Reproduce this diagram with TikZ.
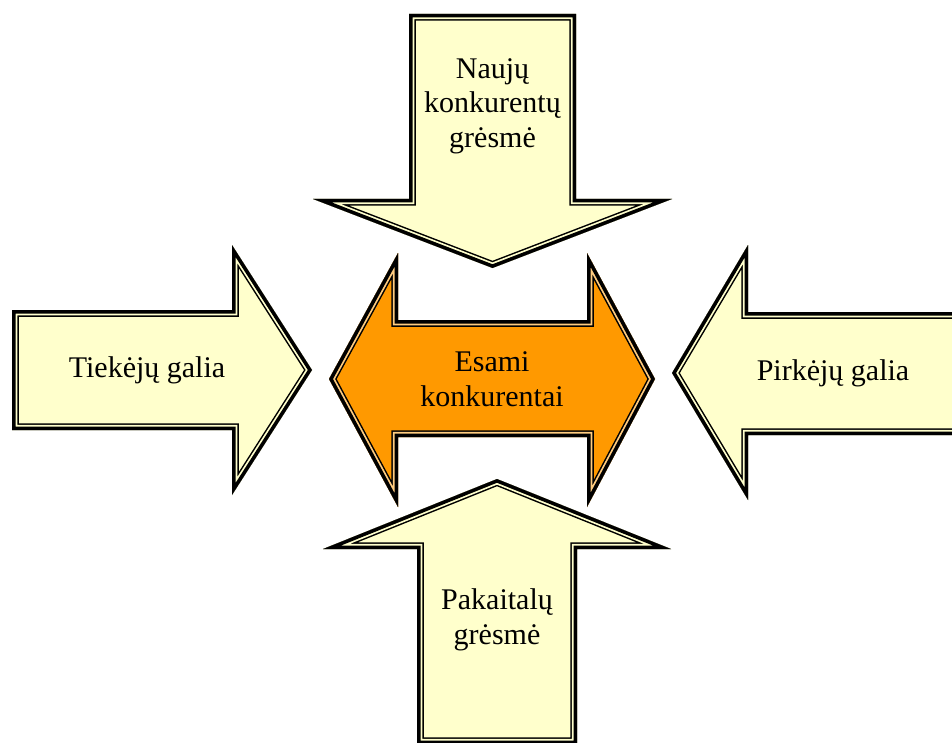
\documentclass[tikz,border=0pt]{standalone}
\usepackage{fontspec}
\setmainfont{Liberation Serif}
\definecolor{creamfill}{HTML}{FFFFCC}
\definecolor{orangefill}{HTML}{FF9900}
\definecolor{orangegap}{HTML}{FFCC80}
\newcommand\fancyarrow[3]{%
  \begin{scope}
    \fill[#1] #3;
    \clip #3;
    \draw[black, line width=13.5pt, line join=miter] #3;
    \draw[#2, line width=10.5pt, line join=miter] #3;
    \draw[black, line width=7pt, line join=miter] #3;
  \end{scope}}
\tikzset{lbl/.style={inner sep=0pt, align=center, font=\fontsize{30}{34.5}\selectfont}}
\begin{document}
\begin{tikzpicture}[x=1pt,y=-1pt]
\useasboundingbox (0,0) rectangle (952,743);
\clip (0,0) rectangle (952,743);
% top arrow (pointing down)
\fancyarrow{creamfill}{creamfill}{(409,14) -- (576,14) -- (576,199) -- (672,199) -- (492.5,268) -- (313,199) -- (409,199) -- cycle}
% left arrow (pointing right)
\fancyarrow{creamfill}{creamfill}{(12,310) -- (232,310) -- (232,245) -- (312,370) -- (232,495) -- (232,430) -- (12,430) -- cycle}
% right arrow (pointing left)
\fancyarrow{creamfill}{creamfill}{(965,312) -- (748,312) -- (748,245) -- (672,373) -- (748,500) -- (748,435) -- (965,435) -- cycle}
% bottom arrow (pointing up)
\fancyarrow{creamfill}{creamfill}{(417,744) -- (417,549) -- (323,549) -- (497,479) -- (671,549) -- (577,549) -- (577,744) -- cycle}
% centre double arrow
\fancyarrow{orangefill}{orangegap}{(329,379) -- (398,253) -- (398,320) -- (587,320) -- (587,253) -- (655,379) -- (587,507) -- (587,437) -- (398,437) -- (398,507) -- cycle}
% labels
\node[lbl] (naujos) at (492.5,106) {Naujų\\konkurentų\\grėsmė};
\node[lbl] (tiekejai) at (147,370.5) {Tiekėjų galia};
\node[lbl] (pirkejai) at (833,373.5) {Pirkėjų galia};
\node[lbl] (esami) at (492,379) {Esami\\konkurentai};
\node[lbl] (pakaitalai) at (497,620) {Pakaitalų\\grėsmė};
\end{tikzpicture}
\end{document}
